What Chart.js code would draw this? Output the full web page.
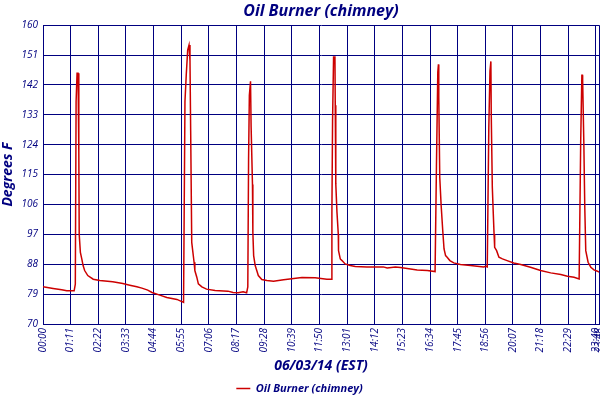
<!DOCTYPE html>
<html lang="en">
<head>
    <meta charset="UTF-8">
    <title>Oil Burner (chimney)</title>
    <script src="https://cdn.jsdelivr.net/npm/chart.js"></script>
    <style>
        body {
            margin: 0;
            background-color: #fff;
        }
        #chart {
            display: block;
        }
    </style>
</head>
<body>
    <canvas id="chart" width="600" height="400"></canvas>
    <script>
        // minutes since midnight
        const minutes = [
            0, 26, 48, 61, 80, 83,
            85, 87.5, 90, 92, 93, 96, 99.6, 103, 107, 115, 129, 146, 179, 205, 223, 241, 254, 269, 280, 300, 318, 344, 361,
            364.6, 368, 371.6, 375, 377.5, 379.3, 382, 388, 390, 395, 399, 408, 420, 442, 475, 488, 501, 514, 523, 526,
            528, 530, 533, 534.5, 538, 539, 541, 545, 549, 553, 562, 575, 592, 618, 639, 665, 699, 729, 741,
            742, 743.7, 746.3, 749.8, 750.6, 752, 755, 758.4, 759, 763.5, 768, 776, 789, 802, 832, 874, 884, 905, 918, 944, 961, 987, 1007,
            1010.5, 1014, 1015.6, 1016.5, 1019, 1022.6, 1026.7, 1030, 1034, 1038, 1045, 1055, 1072, 1098, 1115, 1132, 1137, 1141,
            1145, 1148, 1150.3, 1151.3, 1154, 1156.5, 1158.5, 1160, 1165, 1171, 1180, 1192, 1209, 1227, 1252, 1278, 1304, 1330, 1347, 1364, 1377,
            1381, 1384, 1385.5, 1386, 1389, 1391.5, 1394, 1400, 1407, 1415, 1424, 1428
        ];
        const chimneyTemps = [
            81.2, 80.7, 80.3, 80.0, 80.0, 82.0,
            137, 145.5, 145.5, 121.5, 97, 91.6, 89.6, 87.6, 86.1, 84.6, 83.5, 83.1, 82.7, 82.2, 81.7, 81.2, 80.8, 80.2, 79.5, 78.7, 78.0, 77.4, 76.5,
            137, 145.2, 152.5, 154, 149.4, 128, 94.6, 88.6, 86.1, 84.1, 82.1, 81.2, 80.5, 80.1, 79.9, 79.5, 79.4, 79.7, 79.4, 81.2,
            119.8, 138.9, 143.1, 129.5, 112, 97.6, 90.6, 87.6, 86.1, 84.6, 83.4, 83.1, 82.9, 83.3, 83.6, 84.0, 83.9, 83.5, 83.5,
            103.2, 131.3, 150.4, 150.4, 135.9, 112.2, 103.7, 97.1, 92.1, 89.6, 89.1, 88.1, 87.6, 87.3, 87.2, 87.2, 86.9, 87.2, 87.0, 86.6, 86.3, 86.1, 85.8,
            117.5, 145.9, 148.2, 138.4, 114.2, 105.7, 98.1, 92.6, 90.6, 90.1, 89.1, 88.4, 87.9, 87.6, 87.4, 87.2, 87.4, 87.2,
            129.3, 146.2, 149.1, 132.8, 111.2, 103.2, 97.1, 93.1, 92.1, 90.1, 89.6, 89.1, 88.4, 87.9, 87.1, 86.1, 85.4, 84.9, 84.4, 84.1, 83.6,
            125, 144.9, 144.9, 143.4, 125, 105, 92.1, 88.6, 87.1, 86.3, 85.9, 85.6
        ];

        const tickMinutes = [0, 71, 142, 213, 284, 355, 426, 497, 568, 639, 710, 781, 852, 923, 994, 1065, 1136, 1207, 1278, 1349, 1420, 1428];
        const tickLabels = ['00:00', '01:11', '02:22', '03:33', '04:44', '05:55', '07:06', '08:17', '09:28', '10:39', '11:50',
            '13:01', '14:12', '15:23', '16:34', '17:45', '18:56', '20:07', '21:18', '22:29', '23:40', '23:48'];

        const navy = '#000080';
        const fontFamily = "'Open Sans', sans-serif";

        const points = minutes.map((m, i) => ({ x: m, y: chimneyTemps[i] }));

        new Chart(document.getElementById('chart'), {
            type: 'line',
            data: {
                datasets: [{
                    label: 'Oil Burner (chimney)',
                    data: points,
                    borderColor: '#cc0000',
                    backgroundColor: '#cc0000',
                    borderWidth: 1.5,
                    pointRadius: 0,
                    tension: 0
                }]
            },
            options: {
                responsive: false,
                animation: false,
                // legend sits a little lower than Chart.js would put it
                layout: { padding: { right: 1, left: 0, bottom: -4 } },
                scales: {
                    x: {
                        type: 'linear',
                        min: 0,
                        max: 1428,
                        afterBuildTicks: scale => {
                            scale.ticks = tickMinutes.map(v => ({ value: v }));
                        },
                        afterFit: scale => {
                            scale.height = 59;
                            scale.paddingLeft = 0;
                            scale.paddingRight = 0;
                        },
                        ticks: {
                            autoSkip: false,
                            maxRotation: 90,
                            minRotation: 90,
                            padding: 4,
                            color: navy,
                            font: { family: fontFamily, size: 10, style: 'italic' },
                            callback: (value, index) => tickLabels[index]
                        },
                        grid: { color: navy, lineWidth: 1, drawTicks: false },
                        border: { color: navy, width: 1 },
                        title: {
                            display: true,
                            text: '06/03/14 (EST)',
                            color: navy,
                            padding: { top: 2, bottom: 9 },
                            font: { family: fontFamily, size: 14, style: 'italic', weight: 'bold' }
                        }
                    },
                    y: {
                        min: 70,
                        max: 160,
                        afterFit: scale => {
                            scale.width = 43;
                        },
                        ticks: {
                            stepSize: 9,
                            padding: 5,
                            color: navy,
                            font: { family: fontFamily, size: 10, style: 'italic' }
                        },
                        grid: { color: navy, lineWidth: 1, drawTicks: false },
                        border: { color: navy, width: 1 },
                        title: {
                            display: true,
                            text: 'Degrees F',
                            color: navy,
                            padding: 0,
                            font: { family: fontFamily, size: 14, style: 'italic', weight: 'bold' }
                        }
                    }
                },
                plugins: {
                    title: {
                        display: true,
                        fullSize: false,
                        text: 'Oil Burner (chimney)',
                        color: navy,
                        padding: { top: 2, bottom: 4 },
                        font: { family: fontFamily, size: 16, style: 'italic', weight: 'bold' }
                    },
                    legend: {
                        position: 'bottom',
                        labels: {
                            usePointStyle: true,
                            pointStyle: 'line',
                            pointStyleWidth: 14,
                            padding: 0,
                            color: navy,
                            font: { family: fontFamily, size: 11, style: 'italic', weight: 'bold' }
                        }
                    },
                    tooltip: { enabled: false }
                }
            }
        });
    </script>
</body>
</html>
